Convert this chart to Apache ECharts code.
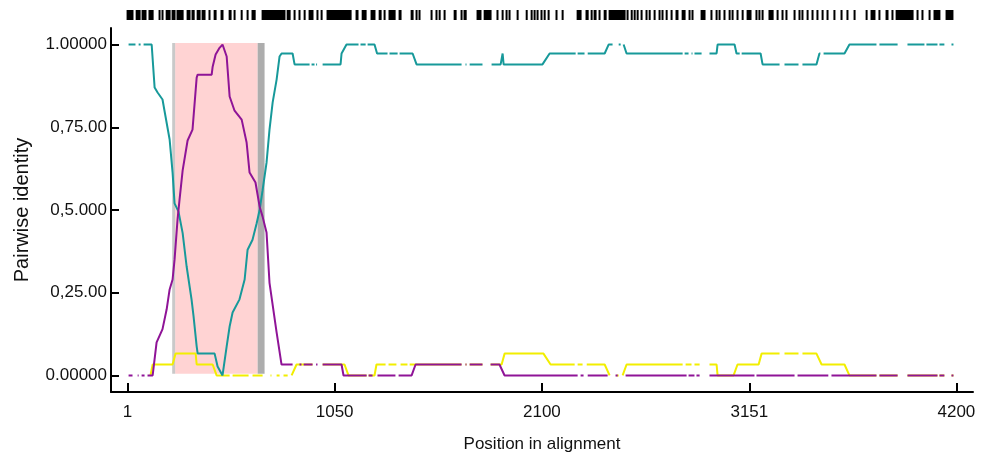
<!DOCTYPE html>
<html>
<head>
<meta charset="utf-8">
<script src="https://cdn.jsdelivr.net/npm/echarts@6/dist/echarts.min.js"></script>
<style>html,body{margin:0;padding:0;background:#fff}#c{width:988px;height:454px}</style>
</head>
<body>
<div id="c"></div>
<script>
const xTicks = [1, 1050, 2100, 3151, 4200];
const yTicks = [0, 0.25, 0.5, 0.75, 1];
const yTickLabels = ['0.00000', '0,25.00', '0,5.000', '0,75.00', '1.00000'];

const recombRegion = [242, 660];
const edgeLeft = [227, 242];
const edgeRight = [660, 695];

const tealSegments = [
 [[6,1],[41,1]],
 [[57,1],[67,1]],
 [[82,1],[123,1],[138,0.87],[153,0.855],[178,0.834],[188,0.80],[214,0.713],[229,0.613],[239,0.52],[259,0.495],[280,0.43],[300,0.33],[325,0.23],[335,0.18],[351,0.088],[356,0.066],[442,0.066],[457,0.027],[482,0],[503,0.088],[518,0.148],[533,0.19],[568,0.23],[594,0.29],[609,0.38],[634,0.41],[655,0.46],[670,0.50],[685,0.56],[705,0.643],[720,0.743],[736,0.825],[756,0.894],[771,0.964],[781,0.973],[837,0.973],[847,0.94],[923,0.94]],
 [[933,0.94],[948,0.94]],
 [[956,0.94],[961,0.94]],
 [[989,0.94],[1080,0.94],[1085,0.973],[1110,1],[1171,1]],
 [[1181,1],[1207,1]],
 [[1217,1],[1252,1],[1265,0.973],[1318,0.973]],
 [[1328,0.973],[1369,0.973]],
 [[1379,0.973],[1445,0.973],[1465,0.94],[1693,0.94]],
 [[1713,0.94],[1718,0.94]],
 [[1734,0.94],[1799,0.94]],
 [[1845,0.94],[1891,0.94],[1901,0.973],[1906,0.94],[2103,0.94],[2139,0.973],[2271,0.973]],
 [[2281,0.973],[2316,0.973]],
 [[2332,0.973],[2418,0.973],[2438,1],[2458,1]],
 [[2489,1],[2499,1]],
 [[2514,1],[2529,0.973],[2813,0.973]],
 [[2823,0.973],[2843,0.973]],
 [[2858,0.973],[2863,0.973]],
 [[2873,0.973],[2909,0.973]],
 [[2949,0.973],[2985,0.973],[2990,1],[3076,1],[3086,0.973],[3102,0.973]],
 [[3112,0.973],[3208,0.973],[3218,0.94],[3304,0.94]],
 [[3329,0.94],[3400,0.94]],
 [[3420,0.94],[3491,0.94],[3506,0.973],[3511,0.973]],
 [[3527,0.973],[3633,0.973],[3658,1],[3795,1]],
 [[3810,1],[3902,1]],
 [[3952,1],[4038,1]],
 [[4048,1],[4104,1]],
 [[4114,1],[4139,1]],
 [[4175,1],[4185,1]]
];

const purpleSegments = [
 [[6,0],[26,0]],
 [[52,0],[57,0]],
 [[72,0],[87,0]],
 [[102,0],[128,0],[148,0.10],[178,0.14],[199,0.2],[214,0.26],[229,0.29],[239,0.35],[254,0.47],[264,0.53],[280,0.62],[305,0.71],[330,0.743],[351,0.90],[356,0.909],[427,0.909],[432,0.933],[447,0.97],[467,0.99],[482,1],[503,0.964],[518,0.843],[543,0.80],[579,0.773],[604,0.704],[619,0.613],[649,0.583],[670,0.51],[685,0.48],[705,0.432],[720,0.28],[756,0.13],[781,0.033],[837,0.033]],
 [[872,0.033],[882,0.033]],
 [[893,0.033],[938,0.033]],
 [[956,0.033],[963,0.033]],
 [[989,0.033],[1085,0.033],[1095,0],[1212,0]],
 [[1222,0],[1242,0]],
 [[1267,0],[1358,0]],
 [[1374,0],[1440,0],[1460,0.033],[1693,0.033]],
 [[1713,0.033],[1718,0.033]],
 [[1734,0.033],[1799,0.033]],
 [[1840,0.033],[1885,0.033],[1911,0],[2281,0]],
 [[2296,0],[2311,0]],
 [[2332,0],[2433,0]],
 [[2473,0],[2484,0]],
 [[2524,0],[2833,0]],
 [[2843,0],[2873,0]],
 [[2883,0],[2899,0]],
 [[2949,0],[3177,0]],
 [[3187,0],[3380,0]],
 [[3395,0],[3551,0]],
 [[3567,0],[3795,0]],
 [[3810,0],[3902,0]],
 [[3952,0],[4104,0]],
 [[4114,0],[4139,0]],
 [[4175,0],[4185,0]]
];

const yellowSegments = [
 [[117,0],[128,0.033],[229,0.033],[244,0.066],[346,0.066],[351,0.033],[432,0.033],[452,0],[518,0]],
 [[533,0],[614,0]],
 [[634,0],[685,0]],
 [[725,0],[730,0]],
 [[756,0],[771,0]],
 [[791,0],[812,0]],
 [[832,0],[842,0],[857,0.033],[938,0.033]],
 [[989,0.033],[1100,0.033],[1120,0],[1212,0]],
 [[1222,0],[1252,0],[1262,0.033],[1308,0.033]],
 [[1323,0.033],[1363,0.033]],
 [[1384,0.033],[1419,0.033]],
 [[1430,0.033],[1693,0.033]],
 [[1713,0.033],[1718,0.033]],
 [[1734,0.033],[1799,0.033]],
 [[1840,0.033],[1896,0.033],[1911,0.066],[2108,0.066],[2144,0.033],[2266,0.033]],
 [[2281,0.033],[2306,0.033]],
 [[2327,0.033],[2418,0.033],[2443,0]],
 [[2478,0],[2489,0]],
 [[2509,0],[2529,0.033],[2813,0.033]],
 [[2828,0.033],[2858,0.033]],
 [[2873,0.033],[2899,0.033]],
 [[2949,0.033],[2985,0.033],[2990,0],[3071,0],[3091,0.033],[3198,0.033],[3213,0.066],[3304,0.066]],
 [[3329,0.066],[3400,0.066]],
 [[3420,0.066],[3491,0.066],[3517,0.033],[3633,0.033],[3658,0],[3795,0]],
 [[3810,0],[3902,0]],
 [[3952,0],[4104,0]],
 [[4114,0],[4139,0]],
 [[4175,0],[4185,0]]
];

const rugSites = [[1,36],[47,72],[77,102],[112,138],[163,163],[178,178],[199,224],[229,249],[254,290],[305,325],[330,346],[356,376],[381,401],[416,416],[442,457],[477,492],[518,533],[543,543],[579,579],[609,609],[634,655],[685,806],[812,832],[847,847],[872,872],[898,898],[923,948],[963,963],[984,984],[1014,1141],[1161,1176],[1192,1217],[1237,1262],[1278,1293],[1303,1303],[1328,1364],[1379,1394],[1440,1455],[1465,1465],[1480,1480],[1541,1541],[1566,1566],[1582,1582],[1607,1607],[1658,1673],[1693,1693],[1708,1724],[1774,1799],[1810,1850],[1875,1875],[1901,1901],[1921,1921],[1936,1936],[1977,1977],[2023,2023],[2048,2048],[2063,2063],[2078,2078],[2098,2098],[2114,2114],[2134,2134],[2174,2174],[2205,2205],[2281,2306],[2326,2342],[2352,2352],[2367,2382],[2392,2392],[2418,2433],[2443,2529],[2534,2534],[2555,2555],[2570,2570],[2585,2585],[2605,2605],[2630,2630],[2646,2646],[2671,2671],[2696,2696],[2711,2711],[2732,2732],[2757,2757],[2782,2797],[2813,2833],[2848,2848],[2863,2863],[2909,2934],[2959,2959],[2985,2985],[3000,3000],[3025,3025],[3051,3051],[3066,3066],[3091,3091],[3117,3117],[3142,3167],[3187,3187],[3202,3202],[3218,3218],[3253,3279],[3294,3294],[3319,3319],[3339,3339],[3380,3380],[3405,3405],[3420,3420],[3446,3446],[3471,3471],[3496,3496],[3522,3522],[3547,3547],[3582,3582],[3618,3618],[3648,3648],[3684,3684],[3745,3745],[3770,3795],[3810,3810],[3846,3861],[3876,3876],[3897,3988],[4003,4003],[4028,4028],[4064,4064],[4089,4124],[4150,4190]];

function joinSegments(segs) {
  const out = [];
  segs.forEach((s, i) => {
    if (i > 0) out.push([s[0][0], null]);
    s.forEach(p => out.push(p));
  });
  return out;
}

const X_MIN = -83, X_MAX = 4284;
const FONT = '"Liberation Sans", Arial, sans-serif';

function lineSeries(name, segs, color, z) {
  return {
    name, type: 'line', data: joinSegments(segs), showSymbol: false, symbol: 'none',
    connectNulls: false, z, lineStyle: { color, width: 2 }, silent: true, animation: false
  };
}

const chart = echarts.init(document.getElementById('c'), null, { renderer: 'canvas' });
chart.setOption({
  animation: false,
  backgroundColor: '#fff',
  grid: [
    { left: 111, right: 15, top: 28, bottom: 62, outerBoundsMode: 'none', containLabel: false },
    { left: 111, right: 15, top: 10, height: 10, outerBoundsMode: 'none', containLabel: false }
  ],
  xAxis: [
    {
      type: 'value', min: X_MIN, max: X_MAX, gridIndex: 0,
      name: 'Position in alignment', nameLocation: 'middle', nameGap: 44,
      nameTextStyle: { fontFamily: FONT, fontSize: 17, color: '#111' },
      splitLine: { show: false },
      axisLine: { show: true, onZero: false, lineStyle: { color: '#000', width: 2 } },
      axisTick: { show: true, inside: true, length: 9, customValues: xTicks, lineStyle: { color: '#000', width: 2 } },
      axisLabel: { customValues: xTicks, fontFamily: FONT, fontSize: 17, color: '#111', margin: 12, formatter: v => String(v) }
    },
    { type: 'value', min: X_MIN, max: X_MAX, gridIndex: 1, show: false }
  ],
  yAxis: [
    {
      type: 'value', min: -0.05, max: 1.05, gridIndex: 0,
      name: 'Pairwise identity', nameLocation: 'middle', nameGap: 79, nameRotate: 90,
      nameTextStyle: { fontFamily: FONT, fontSize: 20, color: '#111' },
      splitLine: { show: false },
      axisLine: { show: true, onZero: false, lineStyle: { color: '#000', width: 2 } },
      axisTick: { show: true, inside: true, length: 8, customValues: yTicks, lineStyle: { color: '#000', width: 2 } },
      axisLabel: {
        customValues: yTicks, fontFamily: FONT, fontSize: 17, color: '#111', margin: 4,
        formatter: v => { const i = yTicks.findIndex(t => Math.abs(t - v) < 1e-9); return i >= 0 ? yTickLabels[i] : ''; }
      }
    },
    { type: 'value', min: 0, max: 1, gridIndex: 1, show: false }
  ],
  series: [
    {
      type: 'line', data: [], z: 1, silent: true,
      markArea: {
        silent: true,
        data: [
          [{ xAxis: recombRegion[0], yAxis: 1.005, itemStyle: { color: '#ffd3d3' } }, { xAxis: recombRegion[1], yAxis: 0.005 }],
          [{ xAxis: edgeLeft[0], yAxis: 1.005, itemStyle: { color: '#c9c9c9' } }, { xAxis: edgeLeft[1], yAxis: 0.005 }],
          [{ xAxis: edgeRight[0], yAxis: 1.005, itemStyle: { color: '#adadad' } }, { xAxis: edgeRight[1], yAxis: 0.005 }]
        ]
      }
    },
    lineSeries('yellow', yellowSegments, '#f2ee00', 2),
    lineSeries('teal', tealSegments, '#17999a', 3),
    lineSeries('purple', purpleSegments, '#8f1497', 4),
    {
      type: 'custom', xAxisIndex: 1, yAxisIndex: 1, silent: true,
      data: rugSites,
      renderItem: (params, api) => {
        const a = api.coord([api.value(0), 0]);
        const b = api.coord([api.value(1), 1]);
        const w = Math.max(b[0] - a[0], 2);
        return { type: 'rect', shape: { x: a[0] - 1, y: b[1], width: w, height: a[1] - b[1] }, style: { fill: '#000' } };
      }
    }
  ]
});
</script>
</body>
</html>
